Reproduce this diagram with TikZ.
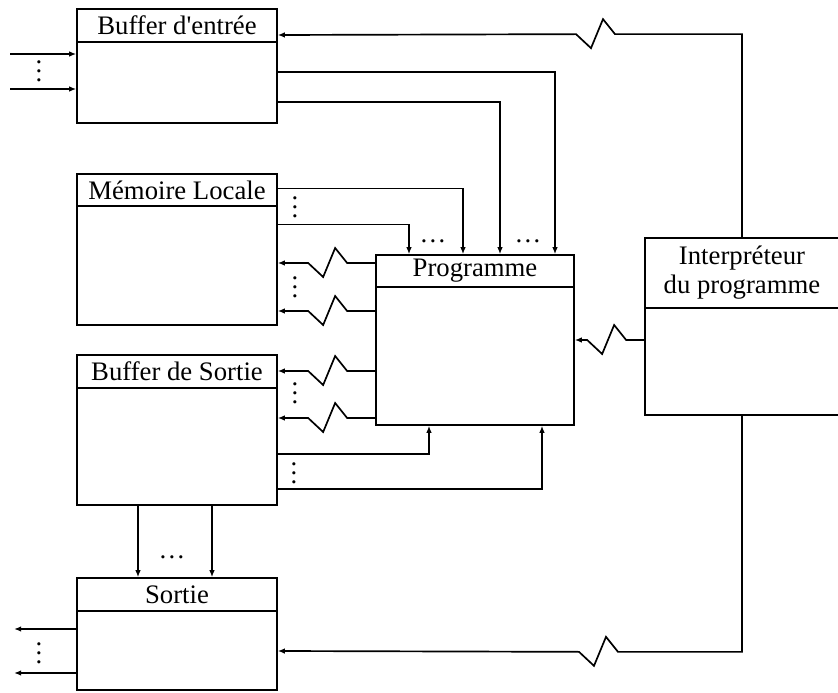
\documentclass[tikz,border=0pt]{standalone}
\usepackage{fontspec}
\setmainfont{Liberation Serif}
\usetikzlibrary{arrows.meta, calc}
\tikzset{every node/.append style={align=center}}

\begin{document}
\begin{tikzpicture}[x=0.25mm, y=-0.25mm,
  blk/.style={rectangle, draw, line width=1.2pt, minimum width=50mm,
              inner sep=0pt},
  head/.style={rectangle, draw, line width=1.2pt, minimum width=50mm,
               minimum height=8.25mm, inner sep=0pt, anchor=north,
               font=\fontsize{19}{20.6}\selectfont},
  arrow/.style={-{Latex[length=5pt, width=4pt]}, line width=1.2pt},
  zz/.style={insert path={-- ++(-12,-15) -- ++(-12,29) -- ++(-15,-14)}},
  vdts/.style={inner sep=0pt, font=\fontsize{19}{6.5}\selectfont},
  hdts/.style={inner sep=0pt, font=\fontsize{19}{20}\selectfont}
]
\useasboundingbox (0,0) rectangle (838,693);

% Blocks
\node[blk, minimum height=28.5mm] (be) at (177,66) {};
\node[head] (beH) at (be.north) {Buffer d\textquotesingle entrée};

\node[blk, minimum height=37.75mm] (ml) at (177,249.5) {};
\node[head, minimum height=8mm] (mlH) at (ml.north) {Mémoire Locale};

\node[blk, minimum height=37.5mm] (bs) at (177,430) {};
\node[head] (bsH) at (bs.north) {Buffer de Sortie};

\node[blk, minimum height=28mm] (so) at (177,634) {};
\node[head] (soH) at (so.north) {Sortie};

\node[blk, minimum width=49.5mm, minimum height=42.5mm] (pg) at (475,340) {};
\node[head, minimum width=49.5mm, minimum height=8mm] (pgH) at (pg.north) {Programme};

\node[blk, minimum width=48.5mm, minimum height=44.25mm] (ip) at (742,326.5) {};
\node[head, minimum width=48.5mm, minimum height=17.5mm] (ipH) at (ip.north)
      {Interpréteur\\du programme};

% Inputs and outputs
\foreach \dy in {-12, 23}
  \draw[arrow] ($(be.west)+(-66,\dy)$) -- ($(be.west)+(0,\dy)$);
\foreach \dy in {-5, 39}
  \draw[arrow] ($(so.west)+(0,\dy)$) -- ++(-62,0);

% Towards the program
\foreach \a/\dy/\dx in {be/6/80, be/36/25, ml/-61/-12, ml/-25/-66}
  \draw[arrow] ($(\a.east)+(0,\dy)$) -| ($(pg.north)+(\dx,0)$);
\foreach \dy/\dx in {24/-46, 59/67}
  \draw[arrow] ($(bs.east)+(0,\dy)$) -| ($(pg.south)+(\dx,0)$);

% From the program
\foreach \dy/\b/\db in {-77/ml/13.5, -29/ml/61.5, 31/bs/-59, 78/bs/-12}
  \draw[arrow] ($(pg.west)+(0,\dy)$) -- ++(-28,0) [zz] -- ($(\b.east)+(0,\db)$);

\foreach \dx in {-39, 35}
  \draw[arrow] ($(bs.south)+(\dx,0)$) -- ($(so.north)+(\dx,0)$);

% Interpreter links
\draw[arrow] (ip.north) -- ++(0,-203) -- ++(-127,0) [zz] -- ($(be.east)+(0,-31)$);
\draw[arrow] (ip.west |- pg.east) -- ++(-18,0) [zz] -- (pg.east);
\draw[arrow] (ip.south) -- ++(0,236) -- ++(-124,0) [zz] -- ($(so.east)+(0,17)$);

% Dots
\node[vdts] (d1) at (39,71) {.\\.\\.};
\node[vdts] (d2) at (295,207) {.\\.\\.};
\node[vdts] (d3) at (295,287) {.\\.\\.};
\node[vdts] (d4) at (295,393) {.\\.\\.};
\node[vdts] (d5) at (294,473) {.\\.\\.};
\node[vdts] (d6) at (39,653) {.\\.\\.};
\node[hdts] (h1) at (433,241) {\dots};
\node[hdts] (h2) at (528,241) {\dots};
\node[hdts] (h3) at (172,557) {\dots};

\end{tikzpicture}
\end{document}
